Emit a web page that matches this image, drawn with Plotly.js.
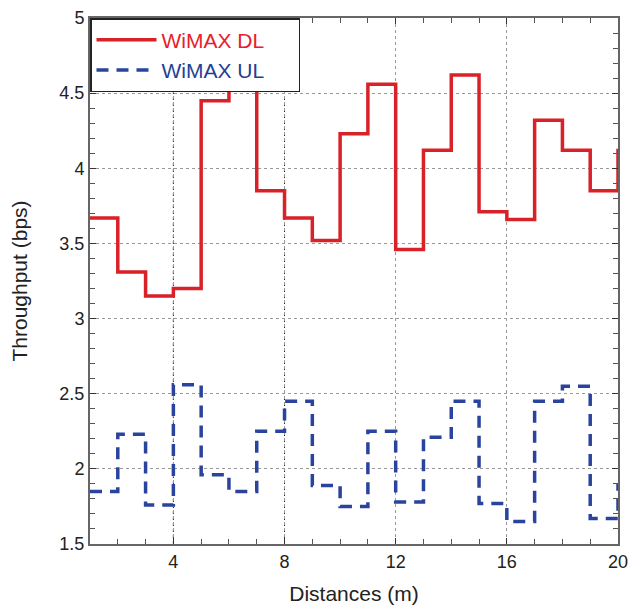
<!DOCTYPE html>
<html>
<head>
<meta charset="utf-8">
<script src="https://cdn.plot.ly/plotly-3.0.1.min.js"></script>
<style>html,body{margin:0;padding:0;background:#fff;}#chart{width:628px;height:606px;}</style>
</head>
<body>
<div id="chart"></div>
<script>
const distances = [1,2,3,4,5,6,7,8,9,10,11,12,13,14,15,16,17,18,19,20];
const dlThroughput = [3.67,3.31,3.15,3.20,4.45,4.75,3.85,3.67,3.52,4.23,4.56,3.46,4.12,4.62,3.71,3.66,4.32,4.12,3.85,4.13];
const ulThroughput = [1.85,2.23,1.76,2.56,1.96,1.85,2.25,2.45,1.89,1.75,2.25,1.78,2.21,2.45,1.77,1.65,2.45,2.55,1.67,1.90];
const xTicks = [4,8,12,16,20];
const yTicks = [1.5,2,2.5,3,3.5,4,4.5,5];
const seriesNames = ['WiMAX DL', 'WiMAX UL'];

const font = "Liberation Sans, Arial, Helvetica, sans-serif";
const pad = '&nbsp;&nbsp;&nbsp;&nbsp;&nbsp;';
const traces = [
  {x: distances, y: dlThroughput, type: 'scatter', mode: 'lines',
   name: '<span style="color:#e8202a">' + seriesNames[0] + '</span>' + pad,
   line: {shape: 'hv', color: '#d92128', width: 3.5}},
  {x: distances, y: ulThroughput, type: 'scatter', mode: 'lines',
   name: '<span style="color:#233f94">' + seriesNames[1] + '</span>' + pad,
   line: {shape: 'hv', color: '#2a449e', width: 3.5, dash: '12px,8px'}}
];
const axisCommon = {
  showline: true, linecolor: '#666', linewidth: 2, mirror: 'ticks',
  ticks: 'inside', ticklen: 6, tickcolor: '#333', tickwidth: 1,
  showgrid: true, gridcolor: '#999', griddash: 'dot', gridwidth: 1,
  zeroline: false, ticklabeloverflow: 'allow',
  tickfont: {family: font, size: 18, color: '#222'}
};
const layout = {
  width: 628, height: 606,
  margin: {l: 90, r: 10, t: 18, b: 62},
  paper_bgcolor: '#fff', plot_bgcolor: '#fff',
  font: {family: font},
  showlegend: true,
  legend: {x: 0, y: 1, xanchor: 'left', yanchor: 'top', bgcolor: '#fff',
           bordercolor: '#222', borderwidth: 1.5, itemwidth: 60,
           font: {family: font, size: 21}, tracegroupgap: 0},
  shapes: [xTicks[0], xTicks[1]].map(v => ({
    type: 'line', xref: 'x', yref: 'paper', x0: v, x1: v, y0: 0, y1: 1,
    layer: 'below', line: {color: '#222', width: 1, dash: 'dot'}
  })),
  xaxis: Object.assign({}, axisCommon, {
    range: [1, 20], tickvals: xTicks, ticktext: xTicks.map(String),
    minor: {dtick: 1, tick0: 0, ticks: 'inside', ticklen: 5, tickcolor: '#555', showgrid: false},
    title: {text: 'Distances (m)', font: {family: font, size: 21, color: '#222'}, standoff: 16}
  }),
  yaxis: Object.assign({}, axisCommon, {
    range: [1.5, 5], tickvals: yTicks, ticktext: yTicks.map(String),
    minor: {dtick: 0.1, tick0: 0, ticks: 'inside', ticklen: 5, tickcolor: '#555', showgrid: false},
    title: {text: 'Throughput (bps)', font: {family: font, size: 21, color: '#222'}, standoff: 26}
  })
};
Plotly.newPlot('chart', traces, layout, {displayModeBar: false, staticPlot: true});
</script>
</body>
</html>
